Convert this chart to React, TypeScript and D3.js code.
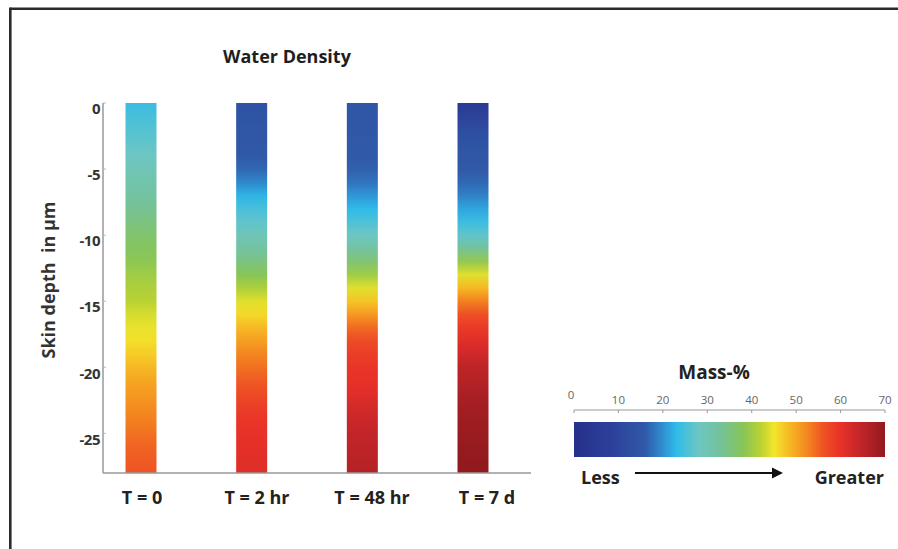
import React from 'react';
import * as d3 from 'd3';

// categories (time points) and depth samples
const categories = ['T = 0', 'T = 2 hr', 'T = 48 hr', 'T = 7 d'];
const depths = [0, -1, -2, -3, -4, -5, -6, -7, -8, -9, -10, -11, -12, -13, -14,
  -15, -16, -17, -18, -19, -20, -21, -22, -23, -24, -25, -26, -27, -28];

// water mass-% along depth
const massT0 = [24, 25, 26, 27, 28, 29.5, 31, 32, 33.5, 35, 36.5, 37.5, 38.5, 40, 41,
  42, 43.5, 44.5, 45.5, 47, 48.5, 50, 51, 52, 53, 54, 55, 55.5, 56];
const massT2h = [14, 14.5, 15, 15.5, 16, 17, 19.5, 22.5, 25, 27, 29.5, 32, 35, 38, 41,
  44, 46, 48.5, 50.5, 52.5, 54, 55.5, 57, 58.5, 59.5, 60, 60.5, 61, 61];
const massT48h = [15, 15, 15.5, 16, 16, 16.5, 18, 20.5, 23, 25.5, 28, 32, 36, 40, 44,
  47.5, 51, 54.5, 57, 58.5, 59.5, 60, 61, 62.5, 63.5, 64.5, 65, 65.5, 66];
const massT7d = [6, 9, 12, 14, 15, 16, 17, 19, 21.5, 24, 27, 33, 39, 44, 48.5,
  53, 56.5, 59, 61, 63, 65, 66, 67, 68, 68.5, 69, 69.5, 70, 70];

const yTicks = [0, -5, -10, -15, -20, -25];
const massTicks = [0, 10, 20, 30, 40, 50, 60, 70];

// colour map (mass-% -> colour)
const massStops = [0, 8, 16, 20, 23, 28, 33, 38, 42, 45, 49, 53, 56, 60, 64, 70];
const massColors = ['#25308b', '#2c3f98', '#3059a8', '#2f8fd2', '#2fbbe9', '#6dc6c3',
  '#75c29a', '#87c558', '#b9d233', '#f3e52b', '#f6b223', '#f3801f', '#ee5424',
  '#e83128', '#c6262a', '#921a1e'];

const series = [massT0, massT2h, massT48h, massT7d];

const W = 898;
const H = 549;
const font = '"Open Sans", "DejaVu Sans", sans-serif';

export default function App() {
  const y = d3.scaleLinear().domain([0, -28]).range([103, 473]);
  const x = d3.scalePoint<string>().domain(categories).range([141, 473]);
  const xLabel = d3.scalePoint<string>().domain(categories).range([142, 487]);
  const barW = 31;
  const color = d3.scaleLinear<string>().domain(massStops).range(massColors)
    .interpolate(d3.interpolateRgb).clamp(true);

  // legend
  const lx = d3.scaleLinear().domain([0, 70]).range([574, 885]);
  const cbTop = 422;
  const cbH = 35;
  const y0 = y(0);
  const y1 = y(-28);

  return (
    <svg width={W} height={H} style={{ position: 'absolute', left: 0, top: 0, background: '#fff' }}>
      <defs>
        {series.map((vals, i) => (
          <linearGradient key={i} id={`bar${i}`} gradientUnits="userSpaceOnUse"
            x1={0} x2={0} y1={y0} y2={y1}>
            {depths.map((d, j) => (
              <stop key={j} offset={(y(d) - y0) / (y1 - y0)} stopColor={color(vals[j])} />
            ))}
          </linearGradient>
        ))}
        <linearGradient id="cbar" gradientUnits="userSpaceOnUse"
          x1={lx(0)} x2={lx(70)} y1={0} y2={0}>
          {massStops.map((s, i) => (
            <stop key={i} offset={s / 70} stopColor={massColors[i]} />
          ))}
        </linearGradient>
      </defs>

      {/* frame */}
      <line x1={10.3} x2={W} y1={8.7} y2={8.7} stroke="#2b2b2b" strokeWidth={2.6} />
      <line x1={10.3} x2={10.3} y1={7.4} y2={H} stroke="#2b2b2b" strokeWidth={2.6} />

      <text x={287} y={63} textAnchor="middle" fontFamily={font} fontWeight={700}
        fontSize={18} fill="#1e1e1e">Water Density</text>

      {/* bars */}
      {categories.map((c, i) => (
        <rect key={c} x={(x(c) as number) - barW / 2} y={y0} width={barW} height={y1 - y0}
          fill={`url(#bar${i})`} />
      ))}

      {/* y axis */}
      <line x1={103} x2={103} y1={y0} y2={y1} stroke="#999" strokeWidth={1.5} />
      <line x1={103} x2={531} y1={y1} y2={y1} stroke="#999" strokeWidth={1.5} />
      {yTicks.map(t => (
        <g key={t}>
          <line x1={103} x2={106} y1={y(t)} y2={y(t)} stroke="#bbb" strokeWidth={1} />
          <text x={100} y={y(t) + 6} dy="0.35em" textAnchor="end" fontFamily={font}
            fontWeight={700} fontSize={15} fill="#333" letterSpacing={-0.5}>{t}</text>
        </g>
      ))}
      <text transform={`translate(55,${280}) rotate(-90)`} textAnchor="middle"
        fontFamily={font} fontWeight={700} fontSize={18} fill="#333"
        style={{ whiteSpace: 'pre' }}>{'Skin depth  in µm'}</text>

      {categories.map(c => (
        <text key={c} x={xLabel(c)} y={504} textAnchor="middle" fontFamily={font}
          fontWeight={700} fontSize={18} fill="#222">{c}</text>
      ))}

      {/* colour legend */}
      <text x={714} y={379} textAnchor="middle" fontFamily={font} fontWeight={700}
        fontSize={19} fill="#222">Mass-%</text>
      <line x1={lx(0)} x2={lx(70)} y1={410} y2={410} stroke="#999" strokeWidth={1.2} />
      {massTicks.map(t => (
        <g key={t}>
          <line x1={lx(t)} x2={lx(t)} y1={410} y2={413} stroke="#999" strokeWidth={1} />
          <text x={t === 0 ? lx(t) - 3 : lx(t)} y={t === 0 ? 399 : 404} textAnchor="middle"
            fontFamily={font} fontSize={11.5} fill="#666">{t}</text>
        </g>
      ))}
      <rect x={lx(0)} y={cbTop} width={lx(70) - lx(0)} height={cbH} fill="url(#cbar)" />

      <text x={581} y={484} fontFamily={font} fontWeight={700} fontSize={18}
        fill="#222">Less</text>
      <line x1={635} x2={774} y1={473} y2={473} stroke="#111" strokeWidth={2} />
      <path d="M772,467.5 L783,473 L772,478.5 Z" fill="#111" />
      <text x={884} y={484} textAnchor="end" fontFamily={font} fontWeight={700}
        fontSize={18} fill="#222">Greater</text>
    </svg>
  );
}
